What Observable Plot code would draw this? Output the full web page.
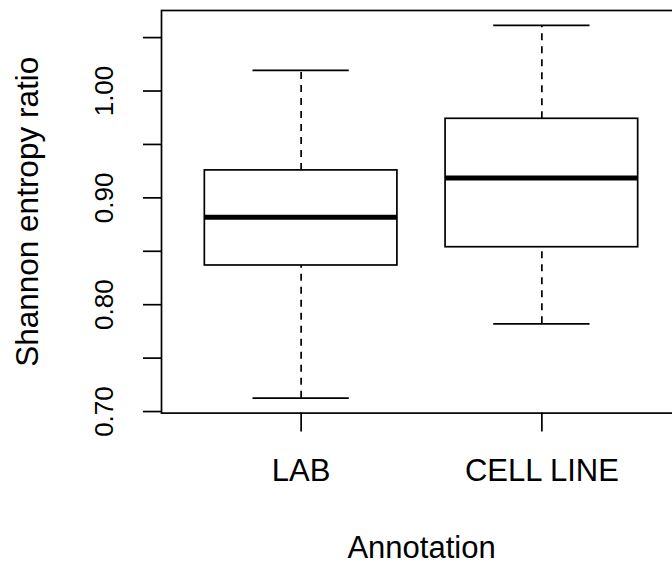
<!DOCTYPE html>
<html>
<head>
<meta charset="utf-8">
<script src="https://cdn.jsdelivr.net/npm/d3@7"></script>
<script src="https://cdn.jsdelivr.net/npm/@observablehq/plot@0.6"></script>
<style>
  html, body { margin: 0; padding: 0; background: white; overflow: hidden; }
  #chart svg { display: block; overflow: hidden; }
</style>
</head>
<body>
<div id="chart"></div>
<script>
// ---- data ----
const categories = ["LAB", "CELL LINE"];
const lowerWhisker = [0.7125, 0.7821];
const q1 = [0.8367, 0.8538];
const median = [0.8819, 0.9185];
const q3 = [0.9257, 0.9740];
const upperWhisker = [1.0193, 1.0614];
const yTicks = [0.70, 0.75, 0.80, 0.85, 0.90, 0.95, 1.00, 1.05];
const yTickLabels = [0.70, 0.80, 0.90, 1.00];
const xTitle = "Annotation";
const yTitle = "Shannon entropy ratio";

// table for the library
const boxes = categories.map((c, i) => ({
  name: c, pos: i + 1,
  lo: lowerWhisker[i], q1: q1[i], med: median[i], q3: q3[i], hi: upperWhisker[i]
}));

// R-like axis extension (4%)
const ymin = d3.min(lowerWhisker), ymax = d3.max(upperWhisker);
const yext = (ymax - ymin) * 0.04;
const xlo = 0.5, xhi = categories.length + 0.5, xext = (xhi - xlo) * 0.04;

const lw = 1.7;
const chart = Plot.plot({
  width: 672,
  height: 564,
  marginLeft: 161,
  marginRight: -9,
  marginTop: 10,
  marginBottom: 151.4,
  style: { fontFamily: "'Liberation Sans', Arial, Helvetica, sans-serif", background: "white", color: "black" },
  x: { type: "linear", domain: [xlo - xext, xhi + xext], axis: null },
  y: { type: "linear", domain: [ymin - yext, ymax + yext], axis: null },
  marks: [
    // whiskers (dashed)
    Plot.ruleX(boxes, { x: "pos", y1: "q3", y2: "hi", stroke: "black", strokeWidth: lw, strokeDasharray: "7,6" }),
    Plot.ruleX(boxes, { x: "pos", y1: "lo", y2: "q1", stroke: "black", strokeWidth: lw, strokeDasharray: "7,6" }),
    // staples
    Plot.ruleY(boxes, { y: "hi", x1: d => d.pos - 0.2, x2: d => d.pos + 0.2, stroke: "black", strokeWidth: lw }),
    Plot.ruleY(boxes, { y: "lo", x1: d => d.pos - 0.2, x2: d => d.pos + 0.2, stroke: "black", strokeWidth: lw }),
    // boxes
    Plot.rect(boxes, { x1: d => d.pos - 0.4, x2: d => d.pos + 0.4, y1: "q1", y2: "q3", fill: "white", stroke: "black", strokeWidth: lw }),
    // medians
    Plot.ruleY(boxes, { y: "med", x1: d => d.pos - 0.4, x2: d => d.pos + 0.4, stroke: "black", strokeWidth: 5 }),
    // frame
    Plot.frame({ stroke: "black", strokeWidth: lw }),
    // y axis ticks
    Plot.axisY({ ticks: yTicks, tickSize: 18, tickFormat: () => "", strokeWidth: lw, label: null }),
    Plot.text(yTickLabels, { y: d => d, text: d => d.toFixed(2), frameAnchor: "left", dx: -57, rotate: -90, textAnchor: "middle", lineAnchor: "middle", fontSize: 26, fill: "black" }),
    // x axis ticks
    Plot.axisX({ ticks: boxes.map(d => d.pos), tickSize: 19, tickFormat: () => "", strokeWidth: lw, label: null }),
    Plot.text(boxes, { x: "pos", text: "name", frameAnchor: "bottom", dy: 58.4, lineAnchor: "middle", textAnchor: "middle", fontSize: 31, fill: "black" }),
    // axis titles
    Plot.text([xTitle], { text: d => d, frameAnchor: "bottom", dy: 134.6, lineAnchor: "middle", textAnchor: "middle", fontSize: 31, fill: "black" }),
    Plot.text([yTitle], { text: d => d, frameAnchor: "left", dx: -134, rotate: -90, lineAnchor: "middle", textAnchor: "middle", fontSize: 31.5, fill: "black" })
  ]
});
document.getElementById("chart").appendChild(chart);
</script>
</body>
</html>
